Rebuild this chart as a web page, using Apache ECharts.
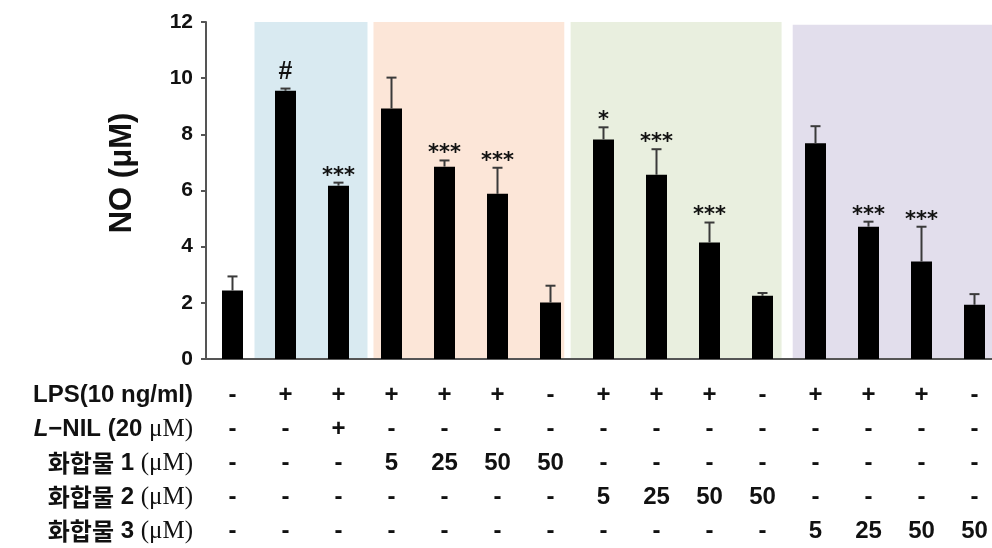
<!DOCTYPE html>
<html>
<head>
<meta charset="utf-8">
<script src="https://cdn.jsdelivr.net/npm/echarts@6/dist/echarts.min.js"></script>
<style>
html,body{margin:0;padding:0;background:#fff;}
#chart{width:992px;height:548px;}
</style>
</head>
<body>
<div id="chart"></div>
<script>
// ---- data ----
const categories = ['1','2','3','4','5','6','7','8','9','10','11','12','13','14','15'];
const noValues  = [2.44, 9.55, 6.17, 8.92, 6.85, 5.88, 2.01, 7.82, 6.56, 4.15, 2.25, 7.68, 4.71, 3.47, 1.93];
const noErrors  = [0.50, 0.08, 0.11, 1.10, 0.22, 0.93, 0.60, 0.43, 0.91, 0.71, 0.10, 0.61, 0.18, 1.24, 0.38];
const sigMarks  = ['', '#', '***', '', '***', '***', '', '*', '***', '***', '', '', '***', '***', ''];
const yTicks    = [0, 2, 4, 6, 8, 10, 12];
const rowLPS    = ['-','+','+','+','+','+','-','+','+','+','-','+','+','+','-'];
const rowLNIL   = ['-','-','+','-','-','-','-','-','-','-','-','-','-','-','-'];
const rowC1     = ['-','-','-','5','25','50','50','-','-','-','-','-','-','-','-'];
const rowC2     = ['-','-','-','-','-','-','-','5','25','50','50','-','-','-','-'];
const rowC3     = ['-','-','-','-','-','-','-','-','-','-','-','5','25','50','50'];
// background group regions: [start, end, top] in category-index units
const bgStart   = [0.915, 3.16, 6.88, 11.07];
const bgEnd     = [3.047, 6.76, 10.86, 15];
const bgTop     = [12, 12, 12, 11.9];
const bgColors  = ['#d9eaf1', '#fce6d8', '#e9efdf', '#e2deec'];

const chart = echarts.init(document.getElementById('chart'), null, {renderer:'canvas'});

const errData = noValues.map((v,i) => [i, v, noErrors[i], sigMarks[i]]);
const bgData = bgStart.map((s,i) => [s, bgEnd[i], bgTop[i], i]);

const labelRich = {
  b: {fontFamily:'Liberation Sans', fontWeight:'bold', fontSize:24, lineHeight:34, color:'#111'},
  i: {fontFamily:'Liberation Sans', fontWeight:'bold', fontStyle:'italic', fontSize:24, lineHeight:34, color:'#111'},
  k: {fontFamily:'Noto Sans CJK KR', fontWeight:'bold', fontSize:24, lineHeight:34, color:'#111'},
  s: {fontFamily:'Liberation Serif', fontWeight:'normal', fontSize:25, lineHeight:34, color:'#111'}
};
const rowLabelText = [
  '{b|LPS(10 ng/ml)}',
  '{i|L}{b|−NIL (20 }{s|μM)}',
  '{k|화합물}{b| 1 }{s|(μM)}',
  '{k|화합물}{b| 2 }{s|(μM)}',
  '{k|화합물}{b| 3 }{s|(μM)}'
].join('\n');

const option = {
  animation: false,
  backgroundColor: '#fff',
  grid: {left: 206, width: 795, top: 22, bottom: 189, containLabel: false, outerBoundsMode: 'none'},
  xAxis: [{
    type: 'category',
    data: categories,
    axisLine: {show: true, lineStyle: {color: '#555', width: 2}},
    axisTick: {show: false},
    axisLabel: {
      interval: 0,
      margin: 19,
      fontFamily: 'Liberation Sans',
      fontWeight: 'bold',
      fontSize: 24,
      lineHeight: 34,
      color: '#111',
      formatter: (val, idx) => [rowLPS[idx], rowLNIL[idx], rowC1[idx], rowC2[idx], rowC3[idx]].join('\n')
    }
  }, {
    type: 'value', min: 0, max: 15, show: false
  }],
  yAxis: {
    type: 'value', min: 0, max: 12, interval: 2,
    splitLine: {show: false},
    axisLine: {show: true, lineStyle: {color: '#555', width: 2}},
    axisTick: {show: true, length: 5, lineStyle: {color: '#555', width: 2}},
    axisLabel: {
      margin: 13,
      fontFamily: 'Liberation Sans', fontWeight: 'bold', fontSize: 21, color: '#111',
      formatter: v => yTicks.includes(v) ? String(v) : ''
    }
  },
  graphic: [
    {
      type: 'text', x: 193, y: 378,
      style: {text: rowLabelText, align: 'right', verticalAlign: 'top', rich: labelRich,
              fontFamily: 'Liberation Sans', fontWeight: 'bold', fontSize: 24, fill: '#111'}
    },
    {
      type: 'text', x: 122, y: 173, rotation: Math.PI/2,
      style: {text: 'NO (μM)', align: 'center', verticalAlign: 'middle',
              fontFamily: 'Liberation Sans', fontWeight: 'bold', fontSize: 31, fill: '#111'}
    }
  ],
  series: [
    {
      type: 'custom',
      xAxisIndex: 1,
      z: 0,
      silent: true,
      data: bgData,
      renderItem: (params, api) => {
        const p0 = api.coord([api.value(0), 0]);
        const p1 = api.coord([api.value(1), api.value(2)]);
        return {
          type: 'rect',
          shape: {x: p0[0], y: p1[1], width: p1[0]-p0[0], height: p0[1]-p1[1]},
          style: {fill: bgColors[api.value(3)]}
        };
      }
    },
    {
      type: 'bar',
      xAxisIndex: 0,
      z: 2,
      data: noValues,
      barWidth: 21,
      itemStyle: {color: '#000'}
    },
    {
      type: 'custom',
      xAxisIndex: 0,
      z: 3,
      data: errData,
      encode: {x: 0, y: 1},
      renderItem: (params, api) => {
        const i = api.value(0), v = api.value(1), e = api.value(2);
        const sig = sigMarks[params.dataIndex];
        const p0 = api.coord([i, v]);
        const p1 = api.coord([i, v + e]);
        const children = [
          {type: 'line', shape: {x1: p0[0], y1: p0[1], x2: p1[0], y2: p1[1]}, style: {stroke: '#3a3a3a', lineWidth: 2}},
          {type: 'line', shape: {x1: p1[0]-5, y1: p1[1], x2: p1[0]+5, y2: p1[1]}, style: {stroke: '#3a3a3a', lineWidth: 2}}
        ];
        if (sig) {
          const isHash = sig === '#';
          children.push({
            type: 'text',
            style: {
              text: sig, x: p1[0], y: isHash ? p1[1] - 4 : p1[1] + 4,
              align: 'center', verticalAlign: 'bottom',
              fontFamily: isHash ? 'Liberation Sans' : 'DejaVu Sans',
              fontWeight: 'bold', fontSize: isHash ? 25 : 21, fill: '#111'
            }
          });
        }
        return {type: 'group', children};
      }
    }
  ]
};
chart.setOption(option);
</script>
</body>
</html>
